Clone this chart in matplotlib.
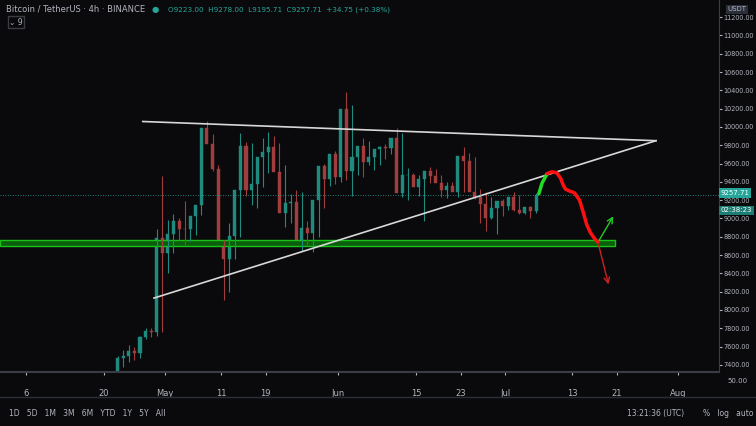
import matplotlib
matplotlib.use("Agg")
from matplotlib import pyplot as plt
import matplotlib.dates as mdates
import numpy as np
import datetime as dt

# daily candles
start = dt.date(2020, 4, 22)
opens = [7130, 7480, 7500, 7550, 7530, 7700, 7770, 7760, 8790, 8620, 8830, 8970, 8890, 8880, 9030,
         9150, 9990, 9810, 9540, 8720, 8560, 8810, 9310, 9790, 9310, 9380, 9670, 9730, 9780, 9510,
         9060, 9170, 9180, 8720, 8900, 8840, 9200, 9570, 9430, 9700, 9450, 10200, 9520, 9670, 9790,
         9620, 9670, 9760, 9780, 9770, 9880, 9280, 9470, 9470, 9340, 9430, 9520, 9460, 9390, 9310,
         9360, 9290, 9680, 9630, 9290, 9240, 9160, 9010, 9120, 9190, 9140, 9230, 9090, 9060, 9130, 9080]
closes = opens[1:] + [9257.71]
highs = [7500, 7560, 7620, 7600, 7720, 7800, 7800, 8890, 9460, 8980, 9050, 9010, 9190, 8950, 9110,
         9990, 10060, 9920, 9580, 8760, 8950, 8980, 9930, 9840, 9830, 9580, 9880, 9950, 9900, 9820,
         9580, 9270, 9310, 9290, 8970, 9000, 9220, 9590, 9600, 9740, 9720, 10380, 10240, 9690, 9880,
         9850, 9720, 9790, 9810, 9850, 9990, 9930, 9550, 9500, 9470, 9490, 9560, 9540, 9480, 9400,
         9400, 9440, 9780, 9720, 9670, 9320, 9290, 9230, 9170, 9210, 9200, 9290, 9260, 9130, 9140, 9278]
lows = [7000, 7380, 7430, 7450, 7470, 7680, 7710, 7720, 7760, 8400, 8620, 8760, 8710, 8750, 8820,
        9040, 9850, 9520, 9480, 8110, 8200, 8560, 8800, 9250, 9150, 9110, 9340, 9500, 9600, 9450,
        8910, 8950, 9080, 8640, 8700, 8630, 8800, 9120, 9350, 9380, 9400, 9420, 9250, 9480, 9450,
        9580, 9530, 9580, 9650, 9700, 9720, 9240, 9200, 9380, 9250, 8970, 9390, 9420, 9240, 9220,
        9300, 9240, 9290, 9570, 9210, 8950, 8860, 8990, 8830, 9030, 9090, 9080, 9050, 9050, 9000, 9060]

# drawings (days after Jun 30 for the hand-drawn paths)
upper_line = [(dt.date(2020, 4, 27), 10060), (dt.date(2020, 7, 28), 9850)]
lower_line = [(dt.date(2020, 4, 29), 8130), (dt.date(2020, 7, 28), 9850)]
green_zone = (8700, 8760)
green_path_x = [7.0, 7.6, 8.5]
green_path_y = [9270, 9390, 9490]
red_path_x = [8.5, 9.3, 10.2, 10.9, 11.4, 11.8, 12.5, 13.4, 14.3, 15.0, 15.6, 16.3, 17.0, 17.6]
red_path_y = [9490, 9510, 9500, 9440, 9360, 9320, 9300, 9280, 9200, 9060, 8930, 8840, 8780, 8740]
arrow_up = ((17.6, 8740), (20.6, 9050))
arrow_dn = ((17.6, 8740), (19.6, 8250))
x_ticks = [dt.date(2020, 4, 6), dt.date(2020, 4, 20), dt.date(2020, 5, 1), dt.date(2020, 5, 11),
           dt.date(2020, 5, 19), dt.date(2020, 6, 1), dt.date(2020, 6, 15), dt.date(2020, 6, 23),
           dt.date(2020, 7, 1), dt.date(2020, 7, 13), dt.date(2020, 7, 21), dt.date(2020, 8, 1)]
x_labels = ["6", "20", "May", "11", "19", "Jun", "15", "23", "Jul", "13", "21", "Aug"]

bg = "#0a0a0c"
txt = "#b2b5be"
up_c, dn_c = "#1f8a7e", "#a23d3d"

fig = plt.figure(figsize=(7.56, 4.26), dpi=100, facecolor=bg)
ax = fig.add_axes([0, 54 / 426, 719 / 756, 372 / 426], facecolor=bg)

days = [mdates.date2num(start + dt.timedelta(days=i)) for i in range(len(opens))]
for d, o, h, l, c in zip(days, opens, highs, lows, closes):
    col = up_c if c >= o else dn_c
    ax.vlines(d + 0.5, l, h, color=col, lw=0.8)
    ax.bar(d + 0.5, abs(c - o) or 5, bottom=min(o, c), width=0.55, color=col, edgecolor=col, lw=0.3)

ax.plot([mdates.date2num(p[0]) for p in upper_line], [p[1] for p in upper_line], color="#d8d8d8", lw=1.2)
ax.plot([mdates.date2num(p[0]) for p in lower_line], [p[1] for p in lower_line], color="#d8d8d8", lw=1.2)
ax.axhspan(green_zone[0], green_zone[1], xmax=615 / 719, facecolor="#0b5e0b", edgecolor="#19c119", lw=1)
ax.axhline(closes[-1], color="#26a69a", lw=0.6, ls=(0, (1, 2)))

jul = mdates.date2num(dt.date(2020, 6, 30))
ax.plot([jul + v for v in green_path_x], green_path_y, color="#22dd22", lw=2.5, solid_capstyle="round")
ax.plot([jul + v for v in red_path_x], red_path_y, color="#ff1010", lw=2.5, solid_capstyle="round")
for (a, b), col in [(arrow_up, "#22cc22"), (arrow_dn, "#cc2020")]:
    ax.annotate("", xy=(jul + b[0], b[1]), xytext=(jul + a[0], a[1]),
                arrowprops=dict(arrowstyle="->", color=col, lw=1))

ax.set_xlim(mdates.date2num(dt.date(2020, 4, 1)) + 0.4, mdates.date2num(dt.date(2020, 8, 8)) + 0.3)
ax.set_ylim(7322, 11388)
ax.set_xticks([mdates.date2num(t) for t in x_ticks])
ax.set_xticklabels(x_labels)
ax.tick_params(axis="x", colors=txt, labelsize=6, length=2, pad=10)
ax.yaxis.tick_right()
ax.set_yticks(np.arange(7400, 11300, 200))
ax.set_yticklabels([f"{v:.2f}" for v in np.arange(7400, 11300, 200)])
ax.tick_params(axis="y", colors=txt, labelsize=4.7, length=2, pad=1)
for s in ["top", "left", "bottom"]:
    ax.spines[s].set_visible(False)
ax.spines["right"].set_color("#3a3d45")
ax.axhline(7322, color="#3a3d45", lw=1.5, clip_on=False)

ax.text(1.002, closes[-1] + 20, "9257.71", transform=ax.get_yaxis_transform(), color="white",
        fontsize=5, va="center", bbox=dict(facecolor="#26a69a", edgecolor="none", pad=1.2))
ax.text(1.002, closes[-1] - 170, "02:38:23", transform=ax.get_yaxis_transform(), color="white",
        fontsize=5, va="center", bbox=dict(facecolor="#1d7d74", edgecolor="none", pad=1.2))

fig.text(0.008, 0.978, "Bitcoin / TetherUS · 4h · BINANCE", color=txt, fontsize=6, va="center")
fig.text(0.2, 0.978, "●", color="#26a69a", fontsize=6, va="center")
fig.text(0.222, 0.978, "O9223.00  H9278.00  L9195.71  C9257.71  +34.75 (+0.38%)", color="#26a69a",
         fontsize=5.2, va="center")
fig.text(0.012, 0.948, "⌄ 9", color=txt, fontsize=5.5, va="center",
         bbox=dict(facecolor=bg, edgecolor="#3a3d45", pad=1))
fig.text(0.975, 0.978, "USDT", color=txt, fontsize=5, va="center", ha="center",
         bbox=dict(facecolor="#2a2e39", edgecolor="none", pad=1))
fig.text(0.975, 0.105, "50.00", color=txt, fontsize=5, va="center", ha="center")
fig.add_artist(plt.Line2D([0, 1], [29 / 426, 29 / 426], color="#2a2e39", lw=1))
fig.text(0.012, 0.03, "1D   5D   1M   3M   6M   YTD   1Y   5Y   All", color=txt, fontsize=5.5, va="center")
fig.text(0.905, 0.03, "13:21:36 (UTC)", color=txt, fontsize=5.5, va="center", ha="right")
fig.text(0.93, 0.03, "%   log   auto", color=txt, fontsize=5.5, va="center")

fig.savefig("out.png", dpi=100, facecolor=bg)
